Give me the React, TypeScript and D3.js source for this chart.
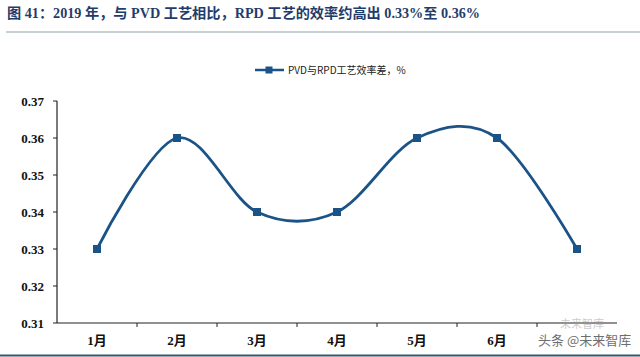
import React from "react";
import * as d3 from "d3";

const months = ["1月", "2月", "3月", "4月", "5月", "6月", "7月"];
const values = [0.33, 0.36, 0.34, 0.34, 0.36, 0.36, 0.33];
const yTicks = [0.31, 0.32, 0.33, 0.34, 0.35, 0.36, 0.37];
const seriesName = "PVD与RPD工艺效率差，%";
const title = "图 41：2019 年，与 PVD 工艺相比，RPD 工艺的效率约高出 0.33%至 0.36%";

const W = 640;
const H = 357;
const LINE = "#1b5387";
const SERIF = "'Liberation Serif', 'Times New Roman', 'Noto Sans CJK SC', serif";

export default function App() {
  const x = d3.scaleBand<string>().domain(months).range([57, 617]);
  const y = d3.scaleLinear().domain([0.31, 0.37]).range([323, 101]);
  const cx = (m: string) => (x(m) ?? 0) + x.bandwidth() / 2;

  const line = d3
    .line<number>()
    .x((_, i) => cx(months[i]))
    .y((d) => y(d))
    .curve(d3.curveCardinal.tension(0));
  const path = line(values) ?? "";

  const bandEdges = months.slice(1).map((m) => x(m) ?? 0);

  return (
    <svg
      width={W}
      height={H}
      style={{ position: "absolute", left: 0, top: 0, background: "#fff" }}
    >
      <rect x={0} y={0} width={W} height={H} fill="#fff" />
      {/* Title */}
      <text
        x={7}
        y={18}
        fontFamily={SERIF}
        fontWeight="bold"
        fontSize={14}
        fill="#1f3d6b"
        textLength={473}
        lengthAdjust="spacingAndGlyphs"
      >
        {title}
      </text>
      <line x1={6} x2={640} y1={32} y2={32} stroke="#8fa3a8" strokeWidth={1} />

      {/* Legend */}
      <line x1={255} x2={284} y1={70} y2={70} stroke={LINE} strokeWidth={2.5} />
      <rect x={265.5} y={66.5} width={7} height={7} fill={LINE} />
      <text
        x={288}
        y={74}
        fontFamily="'Noto Sans CJK SC', sans-serif"
        fontSize={10}
        fill="#222"
      >
        {seriesName}
      </text>

      {/* Y axis */}
      <line x1={57} x2={57} y1={101} y2={323} stroke="#222" strokeWidth={1.2} />
      {yTicks.map((t) => (
        <g key={t}>
          <line x1={53} x2={57} y1={y(t)} y2={y(t)} stroke="#222" strokeWidth={1} />
          <text
            x={44}
            y={y(t) + 4.5}
            textAnchor="end"
            fontFamily={SERIF}
            fontWeight="bold"
            fontSize={13}
            fill="#111"
          >
            {t.toFixed(2)}
          </text>
        </g>
      ))}

      {/* X axis */}
      <line x1={57} x2={617} y1={323} y2={323} stroke="#222" strokeWidth={1.2} />
      {bandEdges.map((e, i) => (
        <line key={i} x1={e} x2={e} y1={323} y2={327} stroke="#222" strokeWidth={1} />
      ))}
      {months.slice(0, 6).map((m) => (
        <text
          key={m}
          x={cx(m)}
          y={345}
          textAnchor="middle"
          fontFamily={SERIF}
          fontWeight="bold"
          fontSize={13}
          fill="#111"
        >
          {m}
        </text>
      ))}

      {/* Series */}
      <path d={path} fill="none" stroke={LINE} strokeWidth={2.8} />
      {values.map((v, i) => (
        <rect
          key={i}
          x={cx(months[i]) - 4}
          y={y(v) - 4}
          width={8}
          height={8}
          fill={LINE}
        />
      ))}

      {/* Watermark */}
      <text
        x={560}
        y={328}
        fontFamily="'Noto Sans CJK SC', sans-serif"
        fontSize={11}
        fill="#999"
        opacity={0.5}
      >
        未来智库
      </text>
      <text
        x={538}
        y={345}
        fontFamily="'Noto Sans CJK SC', sans-serif"
        fontSize={13}
        fill="#555"
        opacity={0.85}
      >
        头条 @未来智库
      </text>

      {/* Bottom rule */}
      <line x1={0} x2={640} y1={355.5} y2={355.5} stroke="#2d5a78" strokeWidth={2} />
    </svg>
  );
}
